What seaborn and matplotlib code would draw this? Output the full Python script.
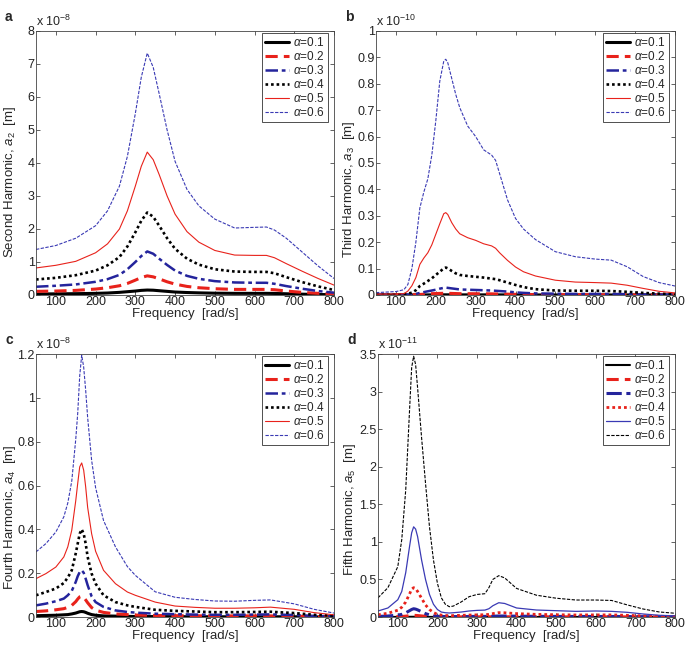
import matplotlib
matplotlib.use("Agg")
import matplotlib.pyplot as plt
import seaborn as sns
import pandas as pd

alphas = ['0.1', '0.2', '0.3', '0.4', '0.5', '0.6']
xticks = [100, 200, 300, 400, 500, 600, 700, 800]

# (a) second harmonic, x 1e-8 m
freq_a = [50, 100, 150, 200, 230, 260, 280, 300, 315, 330, 345, 360, 380, 400, 430, 460, 500, 550, 600, 630, 650, 680, 720, 760, 800]
a_01 = [0.03, 0.035, 0.04, 0.05, 0.06, 0.08, 0.1, 0.12, 0.14, 0.15, 0.145, 0.13, 0.11, 0.09, 0.075, 0.065, 0.055, 0.05, 0.05, 0.05, 0.047, 0.037, 0.025, 0.015, 0.01]
a_02 = [0.11, 0.12, 0.14, 0.18, 0.22, 0.28, 0.35, 0.45, 0.53, 0.58, 0.55, 0.49, 0.4, 0.33, 0.26, 0.22, 0.19, 0.17, 0.17, 0.17, 0.16, 0.12, 0.08, 0.05, 0.03]
a_03 = [0.25, 0.28, 0.32, 0.4, 0.48, 0.61, 0.78, 1.0, 1.18, 1.32, 1.25, 1.1, 0.91, 0.74, 0.58, 0.49, 0.42, 0.38, 0.37, 0.37, 0.34, 0.27, 0.19, 0.12, 0.07]
a_04 = [0.47, 0.52, 0.6, 0.74, 0.9, 1.15, 1.47, 1.9, 2.25, 2.5, 2.37, 2.1, 1.72, 1.4, 1.1, 0.92, 0.78, 0.71, 0.7, 0.7, 0.66, 0.54, 0.39, 0.26, 0.15]
a_05 = [0.82, 0.9, 1.02, 1.28, 1.55, 2.0, 2.55, 3.3, 3.9, 4.33, 4.1, 3.65, 3.0, 2.45, 1.92, 1.6, 1.35, 1.21, 1.2, 1.2, 1.13, 0.95, 0.72, 0.5, 0.3]
a_06 = [1.38, 1.5, 1.72, 2.1, 2.55, 3.3, 4.2, 5.5, 6.6, 7.33, 6.9, 6.1, 5.0, 4.05, 3.2, 2.7, 2.3, 2.03, 2.05, 2.06, 1.97, 1.72, 1.3, 0.88, 0.5]

# (b) third harmonic, x 1e-10 m
freq_b = [50, 100, 120, 130, 140, 150, 160, 170, 180, 190, 200, 210, 220, 225, 230, 240, 250, 260, 280, 300, 320, 340, 350, 360, 380, 400, 420, 450, 500, 550, 600, 640, 680, 720, 760, 800]
b_01 = [0, 0, 0, 0, 0.0001, 0.0001, 0.0002, 0.0003, 0.0004, 0.0005, 0.0006, 0.0006, 0.0007, 0.0007, 0.0007, 0.0006, 0.0006, 0.0005, 0.0005, 0.0005, 0.0005, 0.0004, 0.0004, 0.0004, 0.0003, 0.0003, 0.0002, 0.0002, 0.0001, 0.0001, 0.0001, 0.0001, 0.0001, 0.0001, 0, 0]
b_02 = [0.0, 0.0, 0.0, 0.0005, 0.001, 0.0015, 0.002, 0.003, 0.004, 0.005, 0.0055, 0.006, 0.0065, 0.0065, 0.0065, 0.006, 0.0055, 0.005, 0.005, 0.0048, 0.0045, 0.0043, 0.004, 0.0038, 0.0032, 0.0025, 0.002, 0.0015, 0.0012, 0.001, 0.001, 0.001, 0.0008, 0.0005, 0.0003, 0.0002]
b_03 = [0.0005, 0.001, 0.001, 0.0015, 0.002, 0.004, 0.008, 0.011, 0.014, 0.017, 0.02, 0.024, 0.027, 0.028, 0.027, 0.025, 0.023, 0.021, 0.02, 0.019, 0.018, 0.017, 0.016, 0.015, 0.013, 0.01, 0.008, 0.006, 0.005, 0.004, 0.004, 0.004, 0.003, 0.002, 0.0015, 0.001]
b_04 = [0.001, 0.002, 0.003, 0.005, 0.009, 0.018, 0.034, 0.043, 0.053, 0.063, 0.076, 0.088, 0.101, 0.104, 0.101, 0.091, 0.082, 0.076, 0.072, 0.069, 0.066, 0.062, 0.06, 0.056, 0.047, 0.038, 0.03, 0.022, 0.017, 0.016, 0.016, 0.015, 0.012, 0.008, 0.005, 0.003]
b_05 = [0.003, 0.004, 0.005, 0.015, 0.035, 0.066, 0.116, 0.14, 0.16, 0.19, 0.23, 0.27, 0.308, 0.312, 0.305, 0.274, 0.25, 0.232, 0.217, 0.207, 0.194, 0.186, 0.177, 0.16, 0.131, 0.106, 0.088, 0.072, 0.056, 0.049, 0.047, 0.045, 0.037, 0.025, 0.014, 0.008]
b_06 = [0.009, 0.013, 0.02, 0.04, 0.10, 0.20, 0.33, 0.39, 0.44, 0.53, 0.66, 0.81, 0.886, 0.893, 0.88, 0.82, 0.76, 0.71, 0.64, 0.60, 0.55, 0.53, 0.51, 0.46, 0.36, 0.29, 0.25, 0.21, 0.164, 0.145, 0.136, 0.132, 0.107, 0.07, 0.047, 0.034]

# (c) fourth harmonic, x 1e-8 m
freq_c = [50, 75, 100, 120, 130, 140, 150, 155, 160, 165, 170, 175, 180, 190, 200, 220, 250, 280, 300, 350, 400, 450, 500, 550, 600, 640, 700, 750, 800]
c_01 = [0.006, 0.007, 0.008, 0.01, 0.011, 0.014, 0.018, 0.021, 0.024, 0.025, 0.024, 0.021, 0.017, 0.011, 0.008, 0.005, 0.004, 0.003, 0.002, 0.002, 0.0015, 0.0012, 0.001, 0.001, 0.001, 0.001, 0.001, 0.0005, 0.0003]
c_02 = [0.025, 0.028, 0.033, 0.038, 0.044, 0.053, 0.07, 0.082, 0.092, 0.095, 0.09, 0.078, 0.065, 0.043, 0.031, 0.021, 0.014, 0.011, 0.009, 0.007, 0.006, 0.0055, 0.005, 0.005, 0.005, 0.005, 0.004, 0.002, 0.001]
c_03 = [0.053, 0.061, 0.072, 0.084, 0.099, 0.119, 0.16, 0.186, 0.205, 0.213, 0.202, 0.175, 0.145, 0.094, 0.068, 0.046, 0.03, 0.023, 0.02, 0.015, 0.013, 0.011, 0.01, 0.01, 0.011, 0.012, 0.009, 0.005, 0.003]
c_04 = [0.099, 0.114, 0.13, 0.155, 0.18, 0.213, 0.29, 0.335, 0.38, 0.4, 0.38, 0.335, 0.274, 0.198, 0.152, 0.099, 0.068, 0.053, 0.046, 0.033, 0.028, 0.025, 0.022, 0.022, 0.023, 0.024, 0.018, 0.01, 0.006]
c_05 = [0.175, 0.198, 0.228, 0.274, 0.32, 0.396, 0.53, 0.61, 0.685, 0.703, 0.67, 0.594, 0.50, 0.38, 0.30, 0.213, 0.152, 0.114, 0.099, 0.068, 0.05, 0.044, 0.04, 0.04, 0.042, 0.045, 0.035, 0.02, 0.01]
c_06 = [0.297, 0.335, 0.388, 0.457, 0.52, 0.62, 0.81, 0.93, 1.1, 1.195, 1.14, 1.035, 0.91, 0.715, 0.59, 0.44, 0.32, 0.23, 0.19, 0.115, 0.09, 0.08, 0.073, 0.072, 0.076, 0.078, 0.06, 0.035, 0.018]

# (d) fifth harmonic, x 1e-11 m
freq_d = [50, 75, 100, 110, 120, 130, 135, 140, 145, 150, 160, 170, 180, 190, 200, 210, 220, 230, 240, 260, 280, 300, 320, 330, 340, 355, 370, 400, 450, 500, 550, 600, 640, 680, 720, 760, 800]
d_01 = [0.0003, 0.0005, 0.0008, 0.001, 0.0015, 0.0022, 0.0026, 0.0028, 0.0027, 0.0025, 0.0019, 0.0013, 0.0009, 0.0006, 0.0004, 0.0003, 0.0002, 0.0002, 0.0002, 0.0002, 0.0002, 0.0002, 0.0002, 0.0002, 0.0003, 0.0003, 0.0003, 0.0003, 0.0002, 0.0002, 0.0002, 0.0002, 0.0002, 0.0002, 0.0001, 0.0001, 0.0001]
d_02 = [0.002, 0.003, 0.005, 0.007, 0.011, 0.017, 0.02, 0.022, 0.021, 0.019, 0.014, 0.009, 0.006, 0.004, 0.002, 0.0015, 0.001, 0.001, 0.001, 0.0012, 0.0014, 0.0016, 0.0016, 0.0018, 0.002, 0.0025, 0.0025, 0.002, 0.0018, 0.0016, 0.0014, 0.0014, 0.0014, 0.0012, 0.0008, 0.0006, 0.0004]
d_03 = [0.008, 0.013, 0.025, 0.035, 0.055, 0.085, 0.1, 0.11, 0.105, 0.095, 0.07, 0.045, 0.028, 0.017, 0.01, 0.007, 0.006, 0.005, 0.005, 0.006, 0.007, 0.008, 0.008, 0.009, 0.011, 0.013, 0.013, 0.011, 0.009, 0.008, 0.007, 0.007, 0.007, 0.006, 0.004, 0.003, 0.002]
d_04 = [0.03, 0.05, 0.09, 0.13, 0.2, 0.31, 0.37, 0.39, 0.38, 0.34, 0.25, 0.16, 0.1, 0.06, 0.035, 0.025, 0.02, 0.018, 0.019, 0.022, 0.026, 0.028, 0.03, 0.035, 0.045, 0.058, 0.056, 0.045, 0.035, 0.03, 0.027, 0.028, 0.028, 0.022, 0.015, 0.009, 0.006]
d_05 = [0.08, 0.12, 0.23, 0.34, 0.59, 0.95, 1.12, 1.2, 1.17, 1.07, 0.76, 0.5, 0.3, 0.17, 0.1, 0.066, 0.057, 0.053, 0.057, 0.066, 0.08, 0.088, 0.092, 0.11, 0.15, 0.19, 0.18, 0.12, 0.093, 0.084, 0.075, 0.08, 0.075, 0.062, 0.04, 0.023, 0.015]
d_06 = [0.255, 0.39, 0.67, 1.03, 1.69, 2.79, 3.32, 3.47, 3.36, 3.05, 2.39, 1.78, 1.2, 0.76, 0.45, 0.255, 0.17, 0.137, 0.145, 0.2, 0.27, 0.3, 0.31, 0.39, 0.5, 0.55, 0.52, 0.38, 0.29, 0.25, 0.226, 0.226, 0.22, 0.16, 0.106, 0.067, 0.05]

RED = '#e8221b'
NAVY = '#24249c'
LBLUE = '#3a3ab4'
style_abc = [
    dict(color='black', ls='-', lw=2.2),
    dict(color=RED, ls=(0, (4, 2)), lw=2.2),
    dict(color=NAVY, ls=(0, (5, 1.5, 1.5, 1.5)), lw=1.8),
    dict(color='black', ls=(0, (1, 1.1)), lw=1.9),
    dict(color=RED, ls='-', lw=0.8),
    dict(color=LBLUE, ls=(0, (3, 1.3)), lw=0.8),
]
style_d = [
    dict(color='black', ls='-', lw=1.5),
    dict(color=RED, ls=(0, (4, 2)), lw=2.2),
    dict(color=NAVY, ls=(0, (5, 1.5, 1.5, 1.5)), lw=2.2),
    dict(color=RED, ls=(0, (1, 1.1)), lw=2.0),
    dict(color=LBLUE, ls='-', lw=0.9),
    dict(color='black', ls=(0, (3, 1.3)), lw=0.8),
]

panels = [
    ('a', freq_a, [a_01, a_02, a_03, a_04, a_05, a_06], style_abc, 'Second Harmonic, $a_2$  [m]', -8,
     [0, 1, 2, 3, 4, 5, 6, 7, 8], ['0', '1', '2', '3', '4', '5', '6', '7', '8']),
    ('b', freq_b, [b_01, b_02, b_03, b_04, b_05, b_06], style_abc, 'Third Harmonic, $a_3$  [m]', -10,
     [0, 0.1, 0.2, 0.3, 0.4, 0.5, 0.6, 0.7, 0.8, 0.9, 1.0],
     ['0', '0.1', '0.2', '0.3', '0.4', '0.5', '0.6', '0.7', '0.8', '0.9', '1']),
    ('c', freq_c, [c_01, c_02, c_03, c_04, c_05, c_06], style_abc, 'Fourth Harmonic, $a_4$  [m]', -8,
     [0, 0.2, 0.4, 0.6, 0.8, 1.0, 1.2], ['0', '0.2', '0.4', '0.6', '0.8', '1', '1.2']),
    ('d', freq_d, [d_01, d_02, d_03, d_04, d_05, d_06], style_d, 'Fifth Harmonic, $a_5$  [m]', -11,
     [0, 0.5, 1, 1.5, 2, 2.5, 3, 3.5], ['0', '0.5', '1', '1.5', '2', '2.5', '3', '3.5']),
]

sns.set_style("ticks")
NARROW = ['Liberation Sans Narrow', 'Liberation Sans', 'DejaVu Sans']
plt.rcParams['font.family'] = NARROW
plt.rcParams['mathtext.fontset'] = 'custom'
plt.rcParams['mathtext.rm'] = 'Liberation Sans'
plt.rcParams['mathtext.it'] = 'Liberation Sans:italic'

fig = plt.figure(figsize=(6.85, 6.46), dpi=100)
W, H = 685, 646
# axes frame in pixels (left, top, right, bottom) and y-label anchor
boxes = {'a': (36, 31, 334, 295), 'b': (376, 31, 675, 295),
         'c': (36, 354, 334, 617), 'd': (378, 354, 675, 617)}
ylab_pos = {'a': (-0.062, 0.43), 'b': (-0.064, 0.40),
            'c': (-0.062, 0.38), 'd': (-0.066, 0.41)}

for letter, freq, series, styles, ylab, expo, yt, ytl in panels:
    l, t, r, b = boxes[letter]
    ax = fig.add_axes([l / W, 1 - b / H, (r - l) / W, (b - t) / H])
    for vals, st, alp in zip(series, styles, alphas):
        df = pd.DataFrame({'freq': freq, 'amp': vals})
        sns.lineplot(data=df, x='freq', y='amp', ax=ax, color=st['color'],
                     linestyle=st['ls'], linewidth=st['lw'],
                     label=r'$\alpha$=' + alp)
    ax.set_xlim(50, 800)
    ax.set_ylim(yt[0], yt[-1])
    ax.set_xticks(xticks)
    ax.set_xticklabels([str(v) for v in xticks])
    ax.set_yticks(yt)
    ax.set_yticklabels(ytl)
    ax.tick_params(direction='in', top=True, right=True, length=3, width=0.5,
                   labelsize=9, pad=1, colors='#222222')
    for sp in ax.spines.values():
        sp.set_linewidth(0.6)
        sp.set_color('#444444')
    ax.set_xlabel('Frequency  [rad/s]', fontsize=9.5, labelpad=0)
    ax.set_ylabel(ylab, fontsize=9.5, family=['Liberation Sans', 'DejaVu Sans'])
    ax.yaxis.set_label_coords(*ylab_pos[letter])
    ax.text(0, 1.006, 'x 10$^{%d}$' % expo, transform=ax.transAxes,
            fontsize=9, ha='left', va='bottom')
    leg = ax.legend(loc='upper right', bbox_to_anchor=(1 - 6 / (r - l), 1 - 2 / (b - t)),
                    borderaxespad=0, fontsize=8.5, frameon=True, fancybox=False,
                    handlelength=2.0, handletextpad=0.4, labelspacing=0.08,
                    borderpad=0.25)
    leg.get_frame().set_edgecolor('#333333')
    leg.get_frame().set_linewidth(0.6)
    leg.get_frame().set_alpha(1)
    fig.text((l - 31) / W, 1 - (t - 21) / H, letter, fontsize=10, weight='bold',
             ha='left', va='top', family=['Liberation Sans', 'DejaVu Sans'])

fig.savefig('out.png', dpi=100)
